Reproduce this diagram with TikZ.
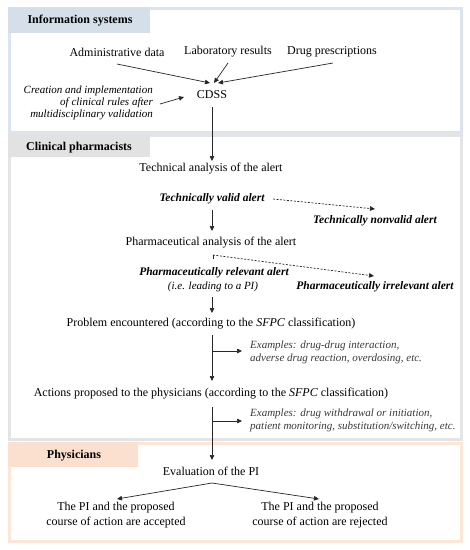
\documentclass[tikz,border=0pt]{standalone}
\usepackage{fontspec}
\setmainfont{Liberation Serif}
\usetikzlibrary{arrows.meta}
\definecolor{infoB}{HTML}{DCE5EF}
\definecolor{infoH}{HTML}{D5DFEA}
\definecolor{pharB}{HTML}{E4E4E4}
\definecolor{pharH}{HTML}{E2E2E2}
\definecolor{physB}{HTML}{FCE6D8}
\definecolor{physH}{HTML}{FCE0CF}
\definecolor{exgray}{HTML}{3A3A3A}
\tikzset{
  txt/.style={inner sep=0pt, font=\fontsize{12}{14}\selectfont},
  bi/.style={inner sep=0pt, font=\fontsize{11.5}{13}\selectfont\bfseries\itshape},
  ex/.style={inner sep=0pt, align=left, anchor=west, text=exgray, font=\fontsize{11}{13}\selectfont\itshape},
  hdr/.style={inner sep=0pt, font=\fontsize{12}{14}\selectfont\bfseries},
  arr/.style={-{Triangle[length=5pt,width=4.5pt]}, line width=0.7pt, draw=black!85},
  darr/.style={-{Triangle[length=5pt,width=4.5pt]}, line width=0.7pt, dash pattern=on 2pt off 1.5pt, draw=black!85},
  ln/.style={line width=0.7pt, draw=black!85},
  panel/.style={line width=3pt},
}
\begin{document}
\begin{tikzpicture}[x=1pt,y=-1pt]
\useasboundingbox (0,0) rectangle (470,550);
% panels
\fill[white] (0,0) rectangle (470,550);
\draw[panel, infoB] (9.5,8.5) rectangle (461.5,132.5);
\fill[infoH] (8,7) rectangle (150,33);
\draw[panel, pharB] (9.5,135.5) rectangle (461.5,439.5);
\fill[pharH] (8,134) rectangle (150,157);
\draw[panel, physB] (9.5,443.5) rectangle (461.5,541.5);
\fill[physH] (8,442) rectangle (138,467);
\node[hdr] (h1) at (80,21) {Information systems};
\node[hdr] (h2) at (79,148) {Clinical pharmacists};
\node[hdr] (h3) at (74,456) {Physicians};
% info systems
\node[txt] (adm) at (117,52) {Administrative data};
\node[txt] (lab) at (228,52) {Laboratory results};
\node[txt] (drug) at (332,52) {Drug prescriptions};
\node[txt] (cdss) at (212,95) {CDSS};
\node[txt, align=right, anchor=east, font=\fontsize{11}{12}\selectfont\itshape] (rules) at (153,103) {Creation and implementation\\of clinical rules after\\multidisciplinary validation};
\coordinate (cin) at (210,83);
\coordinate (cdssout) at (212,107);
\coordinate (rulesin) at (184,97);
\draw[arr] (117,64) -- (cin);
\draw[arr] (228,63) -- (214,83);
\draw[arr] (333,63) -- (218,83);
\draw[arr] (160,104) -- (rulesin);
% clinical pharmacists
\node[txt] (tech) at (211,169) {Technical analysis of the alert};
\draw[arr] (cdssout) -- (212,161);
\node[bi] (valid) at (212,199) {Technically valid alert};
\node[bi] (nonvalid) at (375,221) {Technically nonvalid alert};
\draw[darr] (273,199) -- (375,209);
\draw[arr] (212,210) -- (212,231);
\node[txt] (pharm) at (211,243) {Pharmaceutical analysis of the alert};
\node[bi] (rel) at (214,273) {Pharmaceutically relevant alert};
\node[inner sep=0pt, font=\fontsize{11}{13}\selectfont\itshape] (ie) at (213,287) {(i.e. leading to a PI)};
\node[bi] (irr) at (375,287) {Pharmaceutically irrelevant alert};
\draw[ln] (213,259) -- (213,255);
\draw[darr] (213,255) -- (374,276);
\draw[arr] (212,297) -- (212,313);
\node[txt] (prob) at (211,324) {Problem encountered (according to the \textit{SFPC} classification)};
\coordinate (b1) at (212,351);
\draw[ln] (212,335) -- (b1);
\draw[arr] (b1) -- (212,381);
\draw[arr] (b1) -- (242,351);
\node[ex] (ex1) at (250,352) {Examples: drug-drug interaction,\\adverse drug reaction, overdosing, etc.};
\node[txt] (act) at (211,394) {Actions proposed to the physicians (according to the \textit{SFPC} classification)};
\coordinate (b2) at (212,421);
\draw[ln] (212,407) -- (b2);
\draw[arr] (b2) -- (212,460);
\draw[arr] (b2) -- (242,421);
\node[ex] (ex2) at (250,420.5) {Examples: drug withdrawal or initiation,\\patient monitoring, substitution/switching, etc.};
% physicians
\node[txt] (eval) at (211,471) {Evaluation of the PI};
\node[txt, align=center, font=\fontsize{12}{15}\selectfont] (acc) at (116,515.5) {The PI and the proposed\\course of action are accepted};
\node[txt, align=center, font=\fontsize{12}{15}\selectfont] (rej) at (320,515.5) {The PI and the proposed\\course of action are rejected};
\coordinate (ev) at (212,483);
\draw[arr] (ev) -- (117,499);
\draw[arr] (ev) -- (319,499);
\end{tikzpicture}
\end{document}
